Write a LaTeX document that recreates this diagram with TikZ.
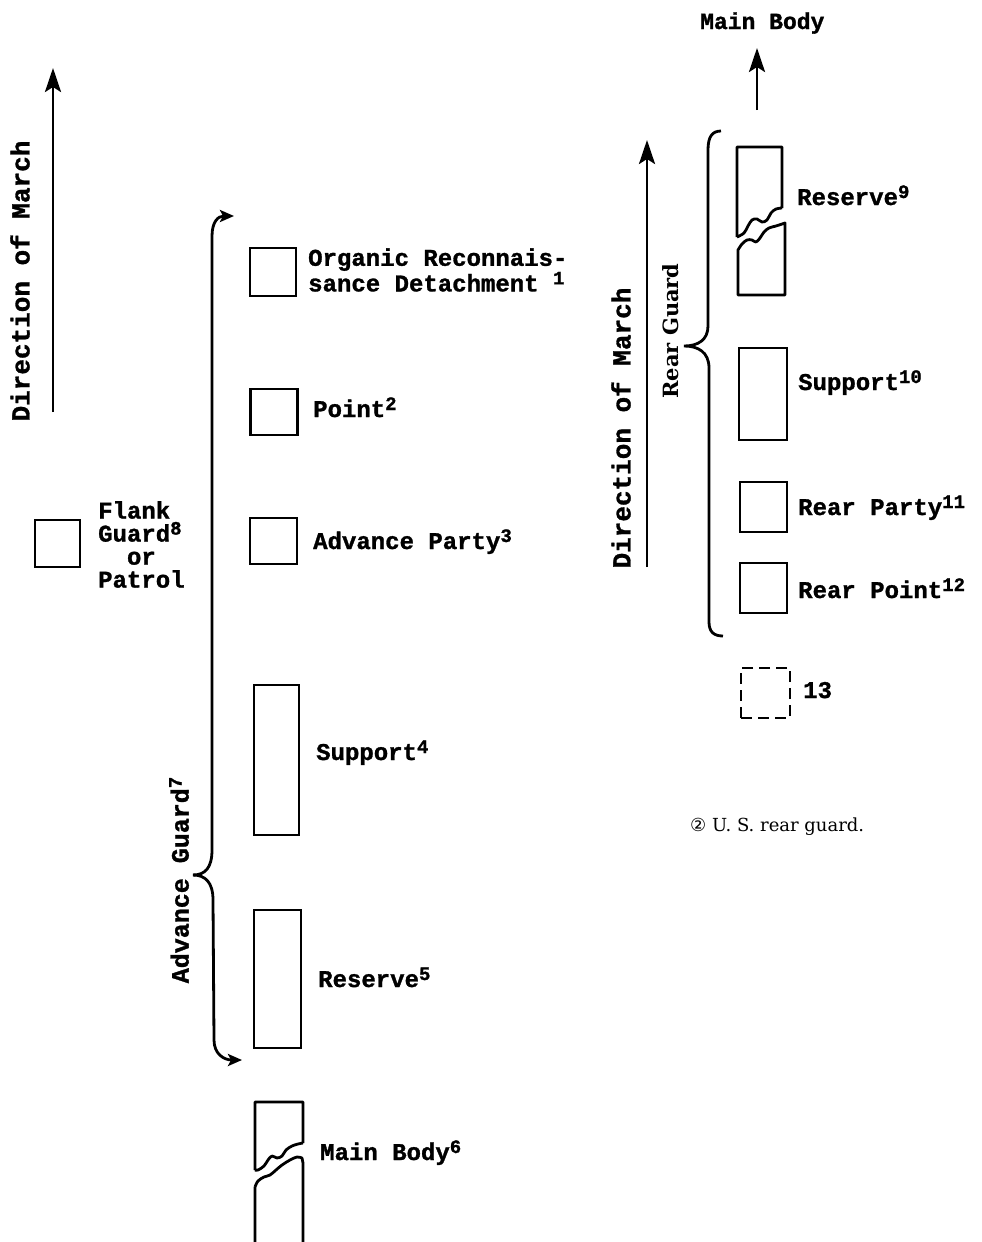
\documentclass[tikz,border=0pt]{standalone}
\usepackage{fontspec}
\setmonofont[BoldFeatures={FakeBold=1.2}]{Liberation Mono}
\newfontfamily\capfont{DejaVu Serif}
\newfontfamily\symfont{DejaVu Sans}
\usetikzlibrary{arrows.meta}
\newcommand{\supnum}[1]{\raisebox{7pt}{\fontsize{19}{19}\selectfont #1}}
\tikzset{
  box/.style={draw,line width=2.8pt,inner sep=0pt},
  dbox/.style={box,dash pattern=on 11pt off 6pt},
  lbl/.style={anchor=base west,inner sep=0pt,align=left,font=\ttfamily\bfseries\fontsize{24}{23}\selectfont},
  vlbl/.style={rotate=90,inner sep=0pt,font=\ttfamily\bfseries\fontsize{26}{26}\selectfont},
  brc/.style={line width=2.8pt},
  brcarr/.style={-{Stealth[length=14pt,width=12pt,inset=3pt]},line width=2.8pt},
  marcharr/.style={-{Stealth[length=24pt,width=16pt,inset=5pt]},line width=2.8pt}
}

\begin{document}
\begin{tikzpicture}[x=1pt,y=-1pt]
\useasboundingbox (0,0) rectangle (982,1242);
\fill[white] (0,0) rectangle (982,1242);
% direction of march, left
\coordinate (dm1tail) at (53,412);
\coordinate (dm1head) at (53,68);
\draw[marcharr] (dm1tail) -- (dm1head);
\node[vlbl] (dm1lbl) at (20,281) {Direction of March};
% flank guard
\node[box,minimum width=45pt,minimum height=47pt] (flankbox) at (57.5,543.5) {};
\node[lbl,anchor=north west] (flanklbl) at (98,501) {Flank\\Guard\supnum{8}\\\hspace*{28.8pt}or\\Patrol};
% advance guard column
\node[box,minimum width=46pt,minimum height=48pt] (orgbox) at (273,272) {};
\node[lbl,anchor=west] (orglbl) at (308,270) {Organic Reconnais-\\sance Detachment \supnum{1}};
\node[box,minimum width=47pt,minimum height=46pt] (pointbox) at (274,412) {};
\node[lbl] (pointlbl) at (313,417) {Point\supnum{2}};
\node[box,minimum width=47pt,minimum height=46pt] (advbox) at (273.5,541) {};
\node[lbl] (advlbl) at (313,549) {Advance Party\supnum{3}};
\node[box,minimum width=45pt,minimum height=150pt] (sup4box) at (276.5,760) {};
\node[lbl] (sup4lbl) at (316,760) {Support\supnum{4}};
\node[box,minimum width=47pt,minimum height=138pt] (res5box) at (277.5,979) {};
\node[lbl] (res5lbl) at (318,987) {Reserve\supnum{5}};
% main body, broken
\draw[brc,line join=round] (255,1170) -- (255,1102) -- (303,1102) -- (303,1143)
  plot[smooth,tension=0.6] coordinates {(303,1143) (298,1144) (292,1146) (286,1150) (282,1156) (277,1158) (272,1156) (268,1160) (264,1166) (258,1170) (255,1170)};
\draw[brc,line join=round] (255,1242) -- (255,1187)
  plot[smooth,tension=0.6] coordinates {(255,1187) (258,1181) (264,1177) (270,1175) (276,1170) (282,1165) (290,1160) (297,1157) (302,1158)}
  -- (303,1163) -- (303,1242);
\node[lbl] (mb6lbl) at (320,1160) {Main Body\supnum{6}};
% advance guard brace
\coordinate (agtop) at (234,216);
\coordinate (agmid) at (193,875);
\coordinate (agbot) at (242,1060);
\draw[brcarr] (agmid) .. controls (205,875) and (212,868) .. (212,850) -- (212,236) .. controls (212,222) and (218,216) .. (agtop);
\draw[brcarr] (agmid) .. controls (205,875) and (213,882) .. (213,900) -- (214,1040) .. controls (214,1054) and (224,1060) .. (agbot);
\node[vlbl,font=\ttfamily\bfseries\fontsize{25}{25}\selectfont] (aglbl) at (179,880) {Advance Guard\supnum{7}};
% main body arrow, right
\coordinate (mbtail) at (757,110);
\coordinate (mbhead) at (757,48);
\draw[marcharr] (mbtail) -- (mbhead);
\node[lbl,font=\ttfamily\bfseries\fontsize{23}{23}\selectfont] (mblbl) at (700,29) {Main Body};
% direction of march, right
\coordinate (dm2tail) at (647,567);
\coordinate (dm2head) at (647,140);
\draw[marcharr] (dm2tail) -- (dm2head);
\node[vlbl] (dm2lbl) at (621,428) {Direction of March};
% rear guard brace
\coordinate (rgtop) at (721,131);
\coordinate (rgmid) at (684,346);
\coordinate (rgbot) at (723,636);
\draw[brc] (rgtop) .. controls (712,131) and (708,137) .. (708,150) -- (708,326) .. controls (708,340) and (698,346) .. (rgmid)
  .. controls (698,346) and (709,352) .. (709,368) -- (709,622) .. controls (709,632) and (714,636) .. (rgbot);
\node[rotate=90,inner sep=0pt,font=\capfont\bfseries\fontsize{21}{21}\selectfont] (rglbl) at (671,331) {Rear Guard};
% rear guard column
\draw[brc,line join=round] (737,237) -- (737,147) -- (782,147) -- (782,208)
  plot[smooth,tension=0.6] coordinates {(782,208) (776,209) (771,213) (767,220) (762,222) (757,219) (752,220) (748,226) (744,233) (737,237)};
\draw[brc,line join=round] (738,250)
  plot[smooth,tension=0.6] coordinates {(738,250) (742,244) (747,240) (752,240) (756,242) (760,238) (764,232) (769,228) (776,226) (785,223)}
  -- (785,295) -- (738,295) -- cycle;
\node[lbl] (res9lbl) at (797,205) {Reserve\supnum{9}};
\node[box,minimum width=48pt,minimum height=92pt] (sup10box) at (763,394) {};
\node[lbl] (sup10lbl) at (798,390) {Support\supnum{10}};
\node[box,minimum width=47pt,minimum height=50pt] (rpartybox) at (763.5,507) {};
\node[lbl] (rpartylbl) at (798,515) {Rear Party\supnum{11}};
\node[box,minimum width=47pt,minimum height=50pt] (rpointbox) at (763.5,588) {};
\node[lbl] (rpointlbl) at (798,598) {Rear Point\supnum{12}};
\node[dbox,minimum width=49pt,minimum height=50pt] (box13) at (765.5,693) {};
\node[lbl] (lbl13) at (803,698) {13};
% caption
\node[anchor=base west,inner sep=0pt,font=\capfont\fontsize{18}{18}\selectfont] (caption) at (690,831) {{\symfont ②} U. S. rear guard.};
\end{tikzpicture}
\end{document}
